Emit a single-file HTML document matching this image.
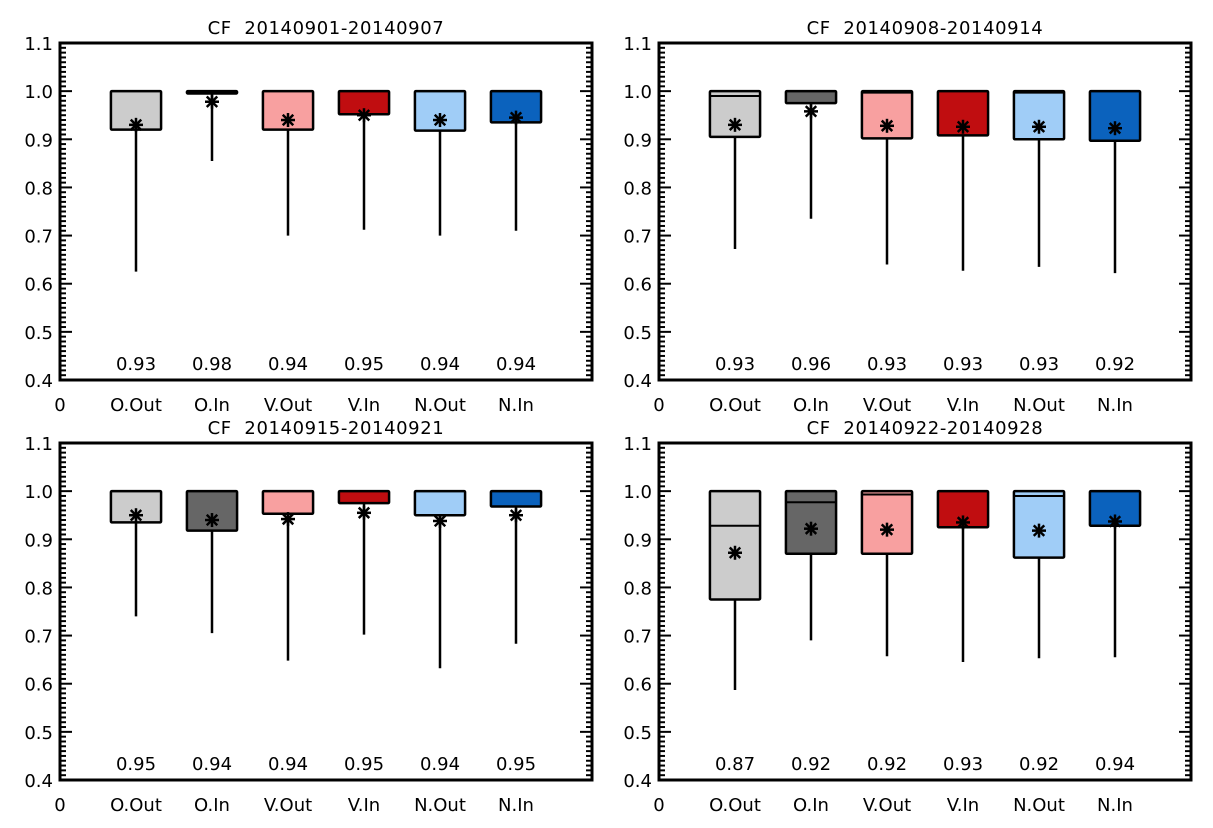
<!DOCTYPE html>
<html><head><meta charset="utf-8"><style>
html,body{margin:0;padding:0;background:#fff;}
svg{display:block;font-family:"DejaVu Sans","Liberation Sans",sans-serif;}
</style></head><body>
<svg id="fig" width="1213" height="828" viewBox="0 0 1213 828" xmlns="http://www.w3.org/2000/svg"></svg>
<script>
const categories = ["O.Out","O.In","V.Out","V.In","N.Out","N.In"];
const colors = ["#cccccc","#666666","#f8a0a0","#c00d10","#a0cdf7","#0b62bd"];
const titles = ["CF\u00a0\u00a020140901-20140907","CF\u00a0\u00a020140908-20140914","CF\u00a0\u00a020140915-20140921","CF\u00a0\u00a020140922-20140928"];
const q1Values = [
  [0.920,0.995,0.920,0.952,0.918,0.935],
  [0.905,0.975,0.902,0.908,0.900,0.897],
  [0.935,0.918,0.953,0.975,0.950,0.968],
  [0.775,0.870,0.870,0.925,0.862,0.928]];
const q3Values = [
  [1.0,1.0,1.0,1.0,1.0,1.0],
  [1.0,1.0,1.0,1.0,1.0,1.0],
  [1.0,1.0,1.0,1.0,1.0,1.0],
  [1.0,1.0,1.0,1.0,1.0,1.0]];
const medianValues = [
  [1.0,1.0,1.0,1.0,1.0,1.0],
  [0.990,1.0,0.997,1.0,0.997,1.0],
  [1.0,1.0,1.0,1.0,1.0,1.0],
  [0.928,0.977,0.993,1.0,0.990,1.0]];
const meanValues = [
  [0.930,0.978,0.940,0.950,0.940,0.945],
  [0.930,0.958,0.928,0.926,0.926,0.923],
  [0.950,0.940,0.942,0.955,0.938,0.950],
  [0.872,0.922,0.920,0.935,0.918,0.937]];
const whiskerLow = [
  [0.625,0.855,0.700,0.712,0.700,0.710],
  [0.672,0.735,0.640,0.627,0.635,0.622],
  [0.740,0.705,0.648,0.702,0.632,0.683],
  [0.587,0.690,0.657,0.645,0.653,0.655]];
const meanLabels = [
  ["0.93","0.98","0.94","0.95","0.94","0.94"],
  ["0.93","0.96","0.93","0.93","0.93","0.92"],
  ["0.95","0.94","0.94","0.95","0.94","0.95"],
  ["0.87","0.92","0.92","0.93","0.92","0.94"]];
const yTicks = ["0.4","0.5","0.6","0.7","0.8","0.9","1.0","1.1"];

const NS="http://www.w3.org/2000/svg";
const svg=document.getElementById('fig');
function mk(tag,attrs,parent){const e=document.createElementNS(NS,tag);for(const k in attrs)e.setAttribute(k,attrs[k]);(parent||svg).appendChild(e);return e;}
const panels=[{x0:60,y0:43},{x0:659,y0:43},{x0:60,y0:443},{x0:659,y0:443}];
const W=532,H=337,YMIN=0.4,YMAX=1.1;
panels.forEach((p,pi)=>{
  const g=mk('g',{});
  
  
  const xs=v=>p.x0+v/7*W;
  const ys=v=>p.y0+H-(v-YMIN)/(YMAX-YMIN)*H;
  const t=mk('text',{x:p.x0+W/2,y:p.y0-9,'text-anchor':'middle','font-size':18,'letter-spacing':0.6},g);
  t.textContent=titles[pi];
  
  
  for(let i=0;i<=70;i++){
    const v=YMIN+i*0.01, y=ys(v), len=(i%10===0)?12:6;
    mk('line',{x1:p.x0,x2:p.x0+len,y1:y,y2:y,stroke:'#000','stroke-width':2},g);
    mk('line',{x1:p.x0+W,x2:p.x0+W-len,y1:y,y2:y,stroke:'#000','stroke-width':2},g);
  }
  yTicks.forEach((lab,i)=>{
    const tl=mk('text',{x:p.x0-7,y:ys(YMIN+i*0.1)+7,'text-anchor':'end','font-size':18},g);
    tl.textContent=lab;
    
    
  });
  const z=mk('text',{x:p.x0,y:p.y0+H+31,'text-anchor':'middle','font-size':18},g);
  z.textContent='0';
  categories.forEach((c,ci)=>{
    const cx=xs(ci+1), bw=W/7*0.66;
    const wl=mk('line',{x1:cx,x2:cx,y1:ys(q1Values[pi][ci]),y2:ys(whiskerLow[pi][ci]),stroke:'#000','stroke-width':2.5},g);
    
    
    const yt=ys(q3Values[pi][ci]), yb=ys(q1Values[pi][ci]);
    const r=mk('rect',{x:cx-bw/2,y:yt,width:bw,height:Math.max(yb-yt,1),fill:colors[ci],stroke:'#000','stroke-width':2.5,rx:1},g);
    
    
    const ym=ys(medianValues[pi][ci]);
    mk('line',{x1:cx-bw/2,x2:cx+bw/2,y1:ym,y2:ym,stroke:'#000','stroke-width':2},g);
    const my=ys(meanValues[pi][ci]), s=7;
    const st=mk('g',{stroke:'#000','stroke-width':2.5},g);
    
    
    mk('line',{x1:cx-s,x2:cx+s,y1:my,y2:my},st);
    mk('line',{x1:cx,x2:cx,y1:my-s,y2:my+s},st);
    mk('line',{x1:cx-s*0.75,x2:cx+s*0.75,y1:my-s*0.75,y2:my+s*0.75},st);
    mk('line',{x1:cx-s*0.75,x2:cx+s*0.75,y1:my+s*0.75,y2:my-s*0.75},st);
    const ml=mk('text',{x:cx,y:p.y0+H-10,'text-anchor':'middle','font-size':18},g);
    ml.textContent=meanLabels[pi][ci];
    
    
    const xl=mk('text',{x:cx,y:p.y0+H+31,'text-anchor':'middle','font-size':18},g);
    xl.textContent=c;
    
    
  });
  const fr=mk('rect',{x:p.x0,y:p.y0,width:W,height:H,fill:'none',stroke:'#000','stroke-width':3},g);
  
  
});
</script>
</body></html>
